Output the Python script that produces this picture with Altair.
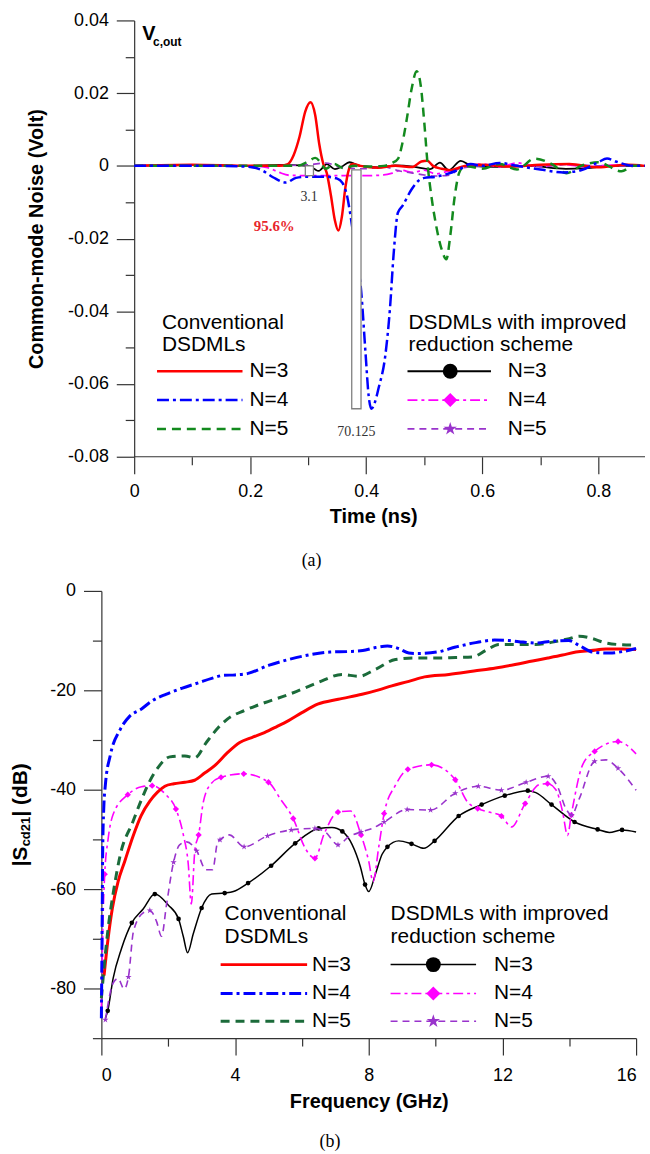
import altair as alt
import pandas as pd

# ============================ DATA ============================
# Panel (a): common-mode noise Vc,out (Volt) versus time (ns)   -> (t, v)
a_conv_n3 = [(0.0, 0), (0.1, 0.0003), (0.2, 0), (0.25, 0), (0.265, 0.0005), (0.275, 0.003), (0.285, 0.008),
             (0.295, 0.015), (0.304, 0.0175), (0.312, 0.014), (0.319, 0.006), (0.326, 0.0005), (0.332, -0.002),
             (0.339, -0.008), (0.346, -0.015), (0.352, -0.0178), (0.358, -0.014), (0.364, -0.006), (0.37, -0.001),
             (0.376, 0.0005), (0.39, 0), (0.42, -0.0005), (0.45, 0), (0.48, -0.0003), (0.495, 0.0012),
             (0.505, 0.0014), (0.515, 0), (0.53, -0.0008), (0.545, -0.0012), (0.57, 0), (0.6, 0.0003),
             (0.65, -0.0002), (0.7, 0.0003), (0.75, 0.0005), (0.8, -0.0004), (0.85, 0.0003), (0.88, 0)]
a_conv_n4 = [(0.0, 0), (0.15, 0), (0.2, -0.0003), (0.22, -0.0012), (0.24, -0.0032), (0.2615, -0.0046),
             (0.279, -0.0033), (0.3, -0.003), (0.33, -0.003), (0.35, -0.0035), (0.359, -0.0047), (0.367, -0.0083),
             (0.373, -0.0138), (0.382, -0.024), (0.391, -0.034), (0.399, -0.052), (0.404, -0.063), (0.409, -0.0668),
             (0.415, -0.065), (0.421, -0.0613), (0.433, -0.052), (0.441, -0.039), (0.447, -0.0247), (0.4545, -0.0129),
             (0.4625, -0.011), (0.478, -0.0065), (0.49, -0.0041), (0.5, -0.0033), (0.52, -0.003), (0.54, -0.0022),
             (0.56, -0.001), (0.58, 0.0005), (0.6, 0), (0.63, 0.0008), (0.66, 0), (0.7, -0.001), (0.74, -0.0018),
             (0.77, -0.0012), (0.8, 0.001), (0.815, 0.002), (0.83, 0.0012), (0.86, 0), (0.88, 0)]
a_conv_n5 = [(0.0, 0), (0.2, 0), (0.28, 0), (0.3, 0.0012), (0.312, 0.0022), (0.322, 0.0008), (0.33, -0.0008),
             (0.345, 0.0005), (0.36, -0.0006), (0.38, 0), (0.4, -0.0002), (0.43, 0), (0.445, 0.0008), (0.455, 0.002),
             (0.462, 0.006), (0.47, 0.013), (0.478, 0.021), (0.487, 0.026), (0.494, 0.022), (0.5, 0.012),
             (0.506, 0), (0.512, -0.008), (0.52, -0.016), (0.53, -0.023), (0.538, -0.0257), (0.545, -0.019),
             (0.552, -0.009), (0.56, -0.002), (0.57, 0), (0.6, -0.0008), (0.63, 0.0005), (0.66, -0.001),
             (0.69, 0.002), (0.72, 0.0005), (0.745, -0.002), (0.77, 0), (0.8, 0.001), (0.84, -0.0015),
             (0.86, 0), (0.88, 0)]
a_impr_n3 = [(0.0, 0), (0.1, 0.0002), (0.15, 0), (0.2, 0), (0.25, 0.0003), (0.3, 0), (0.31, -0.0008),
             (0.318, -0.0014), (0.332, 0.0005), (0.346, -0.0009), (0.358, -0.0002), (0.371, 0.001), (0.389, 0),
             (0.424, -0.0004), (0.45, 0.0001), (0.481, -0.0002), (0.51, -0.0009), (0.527, 0.0009), (0.542, -0.0012),
             (0.563, 0.0014), (0.581, 0), (0.62, -0.0003), (0.68, 0), (0.744, -0.0008), (0.78, -0.0006),
             (0.82, 0), (0.88, 0)]
a_impr_n4 = [(0.0, 0), (0.1, 0.0002), (0.2, 0), (0.23, -0.0005), (0.25, -0.0018), (0.268, -0.0026),
             (0.3, -0.0027), (0.35, -0.0027), (0.4, -0.0027), (0.43, -0.0025), (0.445, -0.002), (0.46, -0.0012),
             (0.48, -0.0018), (0.5, -0.0012), (0.52, -0.0022), (0.54, -0.0015), (0.56, -0.0005), (0.6, 0.0005),
             (0.63, -0.0003), (0.66, 0.0008), (0.7, -0.0002), (0.74, 0.0004), (0.78, -0.0003), (0.82, 0.0002),
             (0.88, 0)]
a_impr_n5 = [(0.0, 0), (0.2, 0), (0.3, 0.0003), (0.33, 0.0008), (0.36, -0.0005), (0.4, -0.0008),
             (0.43, -0.0003), (0.46, -0.0015), (0.48, -0.002), (0.5, -0.0025), (0.52, -0.0028), (0.545, -0.0025),
             (0.56, -0.0008), (0.6, 0), (0.65, 0.0003), (0.7, -0.0002), (0.75, 0.0004), (0.8, 0), (0.88, 0)]
# peak-value bars (t_start, t_end, v_top, v_bottom) and labels (text, t, v)
a_bars = [(0.295, 0.309, 0.0, -0.0027), (0.375, 0.391, -0.0011, -0.0668)]
a_bar_labels = [("3.1", 0.3015, -0.0085), ("70.125", 0.383, -0.0732)]
a_reduction_label = [("95.6%", 0.2415, -0.0165)]

# Panel (b): |Scd21| (dB) versus frequency (GHz) -> (f, dB); improved: (f, dB, marker)
b_conv_n3 = [(0.08, -77.4), (0.2, -70), (0.33, -63.8), (0.5, -58.5), (0.7, -54.4), (0.95, -49.3), (1.19, -45.2),
             (1.45, -42.3), (1.68, -40.5), (1.9, -39.3), (2.17, -38.8), (2.5, -38.5), (2.79, -38.1), (3.1, -36.6),
             (3.4, -35.1), (3.75, -32.7), (4.14, -30.5), (4.5, -29.5), (4.88, -28.5), (5.25, -27.3), (5.6, -26.1),
             (6.0, -24.5), (6.47, -22.8), (7.09, -21.8), (7.8, -20.8), (8.3, -19.9), (8.69, -19.1), (9.2, -18.2),
             (9.67, -17.3), (10.4, -16.8), (11.15, -16.1), (11.8, -15.5), (12.38, -14.8), (12.9, -14.1),
             (13.36, -13.5), (13.8, -12.9), (14.2, -12.3), (14.65, -12.0), (15.1, -11.7), (15.6, -11.7), (16.0, -11.8)]
b_conv_n4 = [(0.0, -86), (0.02, -70), (0.04, -52), (0.07, -44), (0.12, -39), (0.27, -33), (0.57, -27.8),
             (0.85, -25.2), (1.19, -23.8), (1.5, -22.2), (1.93, -20.8), (2.4, -19.6), (2.9, -18.5), (3.3, -17.6),
             (3.65, -17.0), (4.0, -16.9), (4.39, -16.6), (5.0, -15.0), (5.6, -13.8), (6.2, -12.9), (6.84, -12.3),
             (7.4, -12.2), (7.82, -12.0), (8.2, -11.4), (8.56, -11.1), (8.9, -11.6), (9.2, -12.5), (9.42, -12.6),
             (10.04, -12.3), (10.6, -11.3), (11.2, -10.4), (11.76, -9.9), (12.2, -10.0), (12.62, -10.3),
             (13.0, -10.5), (13.5, -10.1), (13.98, -10.0), (14.3, -11.0), (14.7, -12.3), (15.2, -12.5),
             (15.6, -12.2), (16.0, -11.6)]
b_conv_n5 = [(0.0, -82), (0.08, -75.8), (0.2, -68), (0.35, -61), (0.57, -53), (0.94, -46.5), (1.2, -42),
             (1.43, -38.5), (1.7, -35.5), (2.05, -33.4), (2.5, -33.2), (2.79, -33.6), (3.15, -30.4), (3.5, -27.5),
             (3.77, -25.8), (4.3, -24.0), (4.88, -22.5), (5.62, -20.8), (6.1, -19.5), (6.6, -18.1), (7.2, -16.8),
             (7.7, -17.2), (8.2, -15.8), (8.8, -13.8), (9.4, -13.5), (10.0, -13.5), (10.6, -13.4), (11.1, -13.3),
             (11.5, -12.0), (11.9, -10.8), (12.4, -10.8), (13.0, -10.8), (13.5, -10.3), (14.0, -9.6), (14.3, -9.1),
             (14.7, -9.6), (15.0, -10.3), (15.5, -10.8), (16.0, -10.9)]
b_impr_n3 = [(0.12, -86, 0), (0.19, -84.5, 1), (0.35, -78, 0), (0.6, -72, 0), (0.91, -66.8, 1), (1.25, -64, 0),
             (1.6, -61, 1), (2.0, -63.2, 0), (2.31, -66, 1), (2.45, -69.5, 0), (2.58, -72.8, 0), (2.75, -69, 0),
             (3.0, -63.8, 1), (3.3, -61, 0), (3.69, -60.8, 1), (3.95, -60.5, 0), (4.39, -58.8, 1), (5.08, -55.3, 1),
             (5.8, -50.8, 1), (6.5, -47.8, 1), (6.9, -47.6, 0), (7.21, -48.4, 1), (7.5, -51, 0), (7.75, -55.5, 0),
             (7.89, -59.1, 1), (8.0, -60.5, 0), (8.2, -57, 0), (8.4, -53, 0), (8.56, -51.5, 1), (8.9, -50.3, 0),
             (9.28, -50.9, 1), (9.65, -51.8, 0), (9.97, -50.3, 1), (10.69, -45.3, 1), (11.38, -43, 1),
             (12.07, -41.2, 1), (12.76, -40.2, 1), (13.0, -40.6, 0), (13.47, -43, 1), (14.16, -46.5, 1),
             (14.85, -48, 1), (15.2, -48.6, 0), (15.58, -48.1, 1), (16.0, -48.5, 0)]
b_impr_n4 = [(0.0, -84, 0), (0.05, -66, 0), (0.1, -57, 1), (0.2, -50, 0), (0.35, -45, 0), (0.79, -41, 1),
             (1.2, -39.4, 0), (1.52, -39.2, 1), (1.93, -41, 0), (2.23, -43.9, 1), (2.45, -49, 0), (2.6, -55, 0),
             (2.69, -63, 0), (2.8, -52, 0), (2.91, -49.1, 1), (3.05, -42.5, 0), (3.28, -38.8, 0), (3.58, -37.5, 1),
             (4.26, -36.8, 1), (5.0, -38.5, 1), (5.37, -42, 0), (5.74, -45.8, 1), (6.1, -51.8, 0), (6.39, -53.8, 1),
             (6.66, -49, 0), (7.08, -44.5, 1), (7.46, -44.3, 0), (7.77, -49.1, 1), (8.0, -54.4, 0), (8.13, -58.5, 0),
             (8.3, -51.5, 0), (8.46, -44.8, 1), (8.8, -39.1, 0), (9.17, -35.9, 1), (9.88, -35, 1), (10.59, -38, 1),
             (10.96, -42.5, 0), (11.26, -43.8, 1), (11.6, -44.5, 0), (11.97, -45.3, 1), (12.27, -47.5, 0),
             (12.68, -42.8, 1), (13.1, -39, 0), (13.35, -38.8, 1), (13.6, -40, 0), (13.8, -44.4, 0),
             (13.95, -49.2, 0), (14.06, -45.1, 1), (14.4, -35, 0), (14.76, -32.3, 1), (15.46, -30.3, 1),
             (16.0, -32.8, 0)]
b_impr_n5 = [(0.12, -86.3, 1), (0.36, -78.8, 0), (0.5, -78, 0), (0.68, -80.1, 0), (0.81, -77.7, 1),
             (0.96, -68.5, 0), (1.25, -64.8, 0), (1.45, -64.3, 1), (1.65, -66.5, 0), (1.8, -69.5, 0),
             (1.95, -63.1, 0), (2.16, -54.6, 1), (2.34, -51.1, 0), (2.55, -50.5, 0), (2.85, -52.3, 1),
             (3.13, -56.1, 0), (3.33, -56.1, 0), (3.48, -50.5, 0), (3.55, -50.1, 1), (3.83, -49.1, 0),
             (4.27, -51.5, 1), (4.97, -49.3, 1), (5.68, -48.1, 1), (6.39, -47.8, 1), (6.7, -48.5, 0),
             (7.08, -51.1, 1), (7.4, -49.5, 0), (7.77, -48.5, 1), (8.1, -47.8, 0), (8.46, -46.5, 1),
             (9.15, -44, 1), (9.85, -44.1, 1), (10.59, -40.7, 1), (11.28, -39.3, 1), (11.97, -40.1, 1),
             (12.71, -38.5, 1), (13.37, -37.3, 1), (13.65, -39.4, 0), (13.9, -43.8, 0), (14.07, -45.1, 1),
             (14.3, -41.8, 0), (14.76, -34.3, 1), (15.1, -34.0, 0), (15.46, -35.7, 1), (16.0, -40.1, 0)]

# axis ticks / labels
a_xticks = [0, 0.2, 0.4, 0.6, 0.8]
a_xminor = [0.1, 0.3, 0.5, 0.7]
a_yticks = [0.04, 0.02, 0, -0.02, -0.04, -0.06, -0.08]
a_yminor = [0.03, 0.01, -0.01, -0.03, -0.05, -0.07]
b_xticks = [0, 4, 8, 12, 16]
b_xminor = [2, 6, 10, 14]
b_yticks = [0, -20, -40, -60, -80]
b_yminor = [-10, -30, -50, -70, -90]
legend_labels = ["N=3", "N=4", "N=5"]
legend_head_conv = ["Conventional", "DSDMLs"]
legend_head_impr = ["DSDMLs with improved", "reduction scheme"]

# ============================ STYLE / LAYOUT ============================
SANS = "Liberation Sans"
SERIF = "Liberation Serif"
STAR = "M0,-1L0.2245,-0.309L0.9511,-0.309L0.3633,0.118L0.5878,0.809L0,0.382L-0.5878,0.809L-0.3633,0.118L-0.9511,-0.309L-0.2245,-0.309Z"

STY_A = [
    dict(color="#FF0000", width=2.5, dash=None),
    dict(color="#0000FF", width=2.5, dash=[12, 4, 3, 4]),
    dict(color="#138A1E", width=2.5, dash=[9, 6]),
    dict(color="#000000", width=1.8, dash=None, shape="circle", msize=225),
    dict(color="#FF00FF", width=1.8, dash=[10, 4, 3, 4], shape="diamond", msize=200),
    dict(color="#9933CC", width=1.6, dash=[7, 5], shape=STAR, msize=200),
]
STY_B = [
    dict(color="#FF0000", width=3, dash=None),
    dict(color="#0000FF", width=3, dash=[12, 4, 3, 4]),
    dict(color="#1B6B3A", width=3, dash=[9, 6]),
    dict(color="#000000", width=1.5, dash=None, shape="circle", msize=225, psize=22),
    dict(color="#FF00FF", width=1.6, dash=[10, 4, 3, 4], shape="diamond", msize=200, psize=40),
    dict(color="#9933CC", width=1.6, dash=[7, 5], shape=STAR, msize=200, psize=45),
]

ONE = pd.DataFrame({"k": [0]})

A_W, A_H = 547, 439       # panel (a) plot size (left edge shared with panel (b))
A_YOFF = -33              # panel (a) y axis sits 33 px inside the plot frame
B_W, B_H = 538, 450


def axis(values, orient, title=None, label_expr=None, tick=17, pad=8, labels=True, domain=True,
         offset=0, title_pad=10):
    kw = dict(values=values, orient=orient, tickSize=tick, labels=labels, domain=domain, grid=False,
              tickColor="#333333", tickWidth=1.2, domainColor="#333333", domainWidth=1.2,
              labelFont=SANS, labelFontSize=18, labelColor="#000000", labelPadding=pad, labelAngle=0,
              titleFont=SANS, titleFontSize=20, titleFontWeight="bold", titleColor="#000000",
              titlePadding=title_pad, offset=offset, title=title)
    if label_expr:
        kw["labelExpr"] = label_expr
    return alt.Axis(**kw)


def line(pairs, st, xs, ys, xaxis, yaxis):
    df = pd.DataFrame([p[:2] for p in pairs], columns=["x", "y"])
    kw = dict(color=st["color"], strokeWidth=st["width"], interpolate="monotone")
    if st["dash"]:
        kw["strokeDash"] = st["dash"]
    return alt.Chart(df).mark_line(**kw).encode(
        x=alt.X("x:Q", scale=xs, axis=xaxis), y=alt.Y("y:Q", scale=ys, axis=yaxis))


def markers(triples, st, xs, ys, xaxis, yaxis):
    df = pd.DataFrame(triples, columns=["x", "y", "m"])
    df = df[df["m"] == 1]
    return alt.Chart(df).mark_point(shape=st["shape"], filled=True, size=st["psize"], color=st["color"],
                                    opacity=1).encode(
        x=alt.X("x:Q", scale=xs, axis=xaxis), y=alt.Y("y:Q", scale=ys, axis=yaxis))


def text(x, y, s, size=21, font=SANS, weight="normal", color="#000000", align="left",
         baseline="middle", angle=0):
    return alt.Chart(ONE).mark_text(fontSize=size, font=font, fontWeight=weight, color=color,
                                    align=align, baseline=baseline, angle=angle).encode(
        x=alt.value(x), y=alt.value(y), text=alt.value(s))


def legend(ox, oy, L, styles):
    """Legend drawn inside the plot; L holds absolute pixel positions, (ox, oy) is plot origin."""
    out = []
    for i, s in enumerate(legend_head_conv):
        out.append(text(L["hc_x"] - ox, L["h_y"][i] - oy, s))
    for i, s in enumerate(legend_head_impr):
        out.append(text(L["hi_x"] - ox, L["h_y"][i] - oy, s))
    for i, lab in enumerate(legend_labels):
        y = L["e_y"][i] - oy
        for st, (x1, x2), tx, mx in ((styles[i], L["sc"], L["tc"], None),
                                      (styles[i + 3], L["si"], L["ti"], L["mi"])):
            kw = dict(color=st["color"], strokeWidth=st["width"])
            if st["dash"]:
                kw["strokeDash"] = st["dash"]
            out.append(alt.Chart(ONE).mark_rule(**kw).encode(
                x=alt.value(x1 - ox), x2=alt.value(x2 - ox), y=alt.value(y)))
            if mx is not None:
                out.append(alt.Chart(ONE).mark_point(shape=st["shape"], filled=True, size=st["msize"],
                                                     color=st["color"], opacity=1).encode(
                    x=alt.value(mx - ox), y=alt.value(y)))
            out.append(text(tx - ox, y, lab))
    return out


draw_order = [3, 4, 5, 0, 2, 1]

# ---------------- Panel (a) ----------------
A_OX, A_OY = 101, 17
xs_a = alt.Scale(domain=[-0.0565, 0.8805], nice=False, zero=False)
ys_a = alt.Scale(domain=[-0.08, 0.04], nice=False, zero=False)
a_xlab = "datum.value == 0 ? '0' : format(datum.value, '.1f')"
a_ylab = ("datum.value == 0 ? '0' : (datum.value < 0 ? '-' + format(-datum.value, '.2f') "
          ": format(datum.value, '.2f'))")
AXX_A = axis(a_xticks, "bottom", "Time (ns)", a_xlab, tick=17, pad=9, domain=False, title_pad=6)
AXY_A = axis(a_yticks, "left", "Common-mode Noise (Volt)", a_ylab, tick=18, pad=8, offset=A_YOFF, title_pad=21)

a_series = [a_conv_n3, a_conv_n4, a_conv_n5, a_impr_n3, a_impr_n4, a_impr_n5]
a_layers = [line(a_series[i], STY_A[i], xs_a, ys_a, AXX_A, AXY_A) for i in draw_order]

bars_df = pd.DataFrame(a_bars, columns=["t1", "t2", "v1", "v2"])
a_layers.append(alt.Chart(bars_df).mark_rect(fill="white", stroke="#808080", strokeWidth=1.3).encode(
    x=alt.X("t1:Q", scale=xs_a, axis=AXX_A), x2="t2:Q",
    y=alt.Y("v1:Q", scale=ys_a, axis=AXY_A), y2="v2:Q"))
a_layers.append(alt.Chart(pd.DataFrame(a_bar_labels, columns=["s", "t", "v"])).mark_text(
    font=SERIF, fontSize=14, color="#333333").encode(
    x=alt.X("t:Q", scale=xs_a, axis=AXX_A), y=alt.Y("v:Q", scale=ys_a, axis=AXY_A), text="s:N"))
a_layers.append(alt.Chart(pd.DataFrame(a_reduction_label, columns=["s", "t", "v"])).mark_text(
    font=SERIF, fontSize=15, fontWeight="bold", color="#E8262C").encode(
    x=alt.X("t:Q", scale=xs_a, axis=AXX_A), y=alt.Y("v:Q", scale=ys_a, axis=AXY_A), text="s:N"))
# x-axis base line from the y axis to the right end
a_layers.append(alt.Chart(ONE).mark_rule(color="#333333", strokeWidth=1.2).encode(
    x=alt.value(-A_YOFF), x2=alt.value(A_W), y=alt.value(A_H)))
# Vc,out label
a_layers.append(text(142 - A_OX, 37 - A_OY, "V", size=20, weight="bold", baseline="alphabetic"))
a_layers.append(text(153 - A_OX, 43 - A_OY, "c,out", size=12, weight="bold", baseline="alphabetic"))
LEG_A = dict(hc_x=162, hi_x=410, h_y=[321, 344], e_y=[370, 399, 428], sc=(157, 243), tc=250,
             si=(409, 493), mi=452, ti=510)
a_layers += legend(A_OX, A_OY, LEG_A, STY_A)

a_minor = alt.Chart(pd.DataFrame(a_conv_n3, columns=["x", "y"])).mark_point(opacity=0).encode(
    x=alt.X("x:Q", scale=xs_a, axis=axis(a_xminor, "bottom", None, tick=8, labels=False, domain=False)),
    y=alt.Y("y:Q", scale=ys_a, axis=axis(a_yminor, "left", None, tick=9, labels=False, domain=False,
                                         offset=A_YOFF)))

chart_a = alt.layer(alt.layer(*a_layers), a_minor).resolve_axis(x="independent", y="independent").properties(
    width=A_W, height=A_H,
    title=alt.TitleParams("(a)", orient="bottom", font=SERIF, fontSize=18, fontWeight="normal",
                          offset=26, dx=-62, anchor="middle", frame="group", color="#000000"))

# ---------------- Panel (b) ----------------
B_OX, B_OY = 101, 591
xs_b = alt.Scale(domain=[0, 16], nice=False, zero=False)
ys_b = alt.Scale(domain=[-90, 0], nice=False, zero=False)
b_ylab = "datum.value < 0 ? '-' + format(-datum.value, 'd') : '0'"
AXX_B = axis(b_xticks, "bottom", "Frequency (GHz)", None, tick=17, pad=12, title_pad=7)
AXY_B = axis(b_yticks, "left", None, b_ylab, tick=18, pad=8)

b_series = [b_conv_n3, b_conv_n4, b_conv_n5, b_impr_n3, b_impr_n4, b_impr_n5]
b_layers = []
for i in draw_order:
    b_layers.append(line(b_series[i], STY_B[i], xs_b, ys_b, AXX_B, AXY_B))
    if i >= 3:
        b_layers.append(markers(b_series[i], STY_B[i], xs_b, ys_b, AXX_B, AXY_B))

# y-axis title |S_cd21| (dB) with subscript, rotated
b_layers.append(text(20 - B_OX, 868 - B_OY, "|S", size=21, weight="bold", angle=270))
b_layers.append(text(25 - B_OX, 848 - B_OY, "cd21", size=13, weight="bold", angle=270))
b_layers.append(text(20 - B_OX, 818 - B_OY, "| (dB)", size=21, weight="bold", angle=270))
LEG_B = dict(hc_x=225, hi_x=392, h_y=[916, 939], e_y=[967, 996, 1024], sc=(221, 308), tc=313,
             si=(392, 478), mi=435, ti=496)
b_layers += legend(B_OX, B_OY, LEG_B, STY_B)

b_minor = alt.Chart(pd.DataFrame(b_conv_n3, columns=["x", "y"])).mark_point(opacity=0).encode(
    x=alt.X("x:Q", scale=xs_b, axis=axis(b_xminor, "bottom", None, tick=8, labels=False, domain=False)),
    y=alt.Y("y:Q", scale=ys_b, axis=axis(b_yminor, "left", None, tick=9, labels=False, domain=False)))

chart_b = alt.layer(alt.layer(*b_layers), b_minor).resolve_axis(x="independent", y="independent").properties(
    width=B_W, height=B_H,
    title=alt.TitleParams("(b)", orient="bottom", font=SERIF, fontSize=18, fontWeight="normal",
                          offset=22, dx=-39, anchor="middle", frame="group", color="#000000"))

chart = alt.vconcat(chart_a, chart_b, spacing=12).properties(
    padding={"left": 10, "top": 8, "right": 0, "bottom": 0}
).configure(background="white").configure_view(stroke=None)

chart.save("out.html", embed_options={"renderer": "svg", "actions": False})
